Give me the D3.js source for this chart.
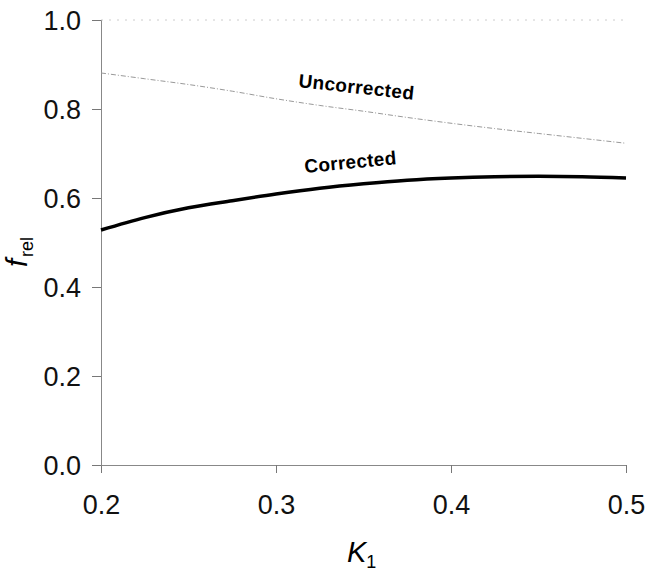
<!DOCTYPE html>
<html><head><meta charset="utf-8">
<script src="https://cdn.jsdelivr.net/npm/d3@7"></script>
<style>body{margin:0;background:#fff}svg{display:block}text{font-family:"Liberation Sans",Arial,sans-serif}</style>
</head><body>
<svg id="c" width="649" height="575"></svg>
<script>
const kValues = [0.2,0.225,0.25,0.275,0.3,0.325,0.35,0.375,0.4,0.425,0.45,0.475,0.5];
const uncorrected = [0.881,0.868,0.855,0.840,0.823,0.808,0.795,0.781,0.768,0.756,0.745,0.734,0.723];
const corrected = [0.528,0.556,0.578,0.594,0.609,0.622,0.632,0.640,0.645,0.648,0.649,0.648,0.645];
const xTicks = [0.2,0.3,0.4,0.5];
const yTicks = [0.0,0.2,0.4,0.6,0.8,1.0];

const svg = d3.select("#c");
const x = d3.scaleLinear().domain([0.2,0.5]).range([101,626]);
const y = d3.scaleLinear().domain([0,1]).range([465,20]);

// top frame (faint)
svg.append("line").attr("x1",x(0.2)).attr("x2",x(0.5)).attr("y1",y(1)).attr("y2",y(1))
  .attr("stroke","#ccc").attr("stroke-width",1).attr("stroke-dasharray","2,6");

const xAxis = svg.append("g").attr("transform",`translate(0,${y(0)})`)
  .call(d3.axisBottom(x).tickValues(xTicks).tickFormat(d3.format(".1f")).tickSize(8).tickPadding(22));
const yAxis = svg.append("g").attr("transform",`translate(${x(0.2)},0)`)
  .call(d3.axisLeft(y).tickValues(yTicks).tickFormat(d3.format(".1f")).tickSize(9).tickPadding(11));
[xAxis,yAxis].forEach(a=>{
  a.select(".domain").attr("stroke","#888").attr("stroke-width",1);
  a.selectAll(".tick line").attr("stroke","#777");
  a.selectAll(".tick text").attr("font-size",27).attr("fill","#111")
    .style("font-family","'Liberation Sans',Arial,sans-serif");
});
xAxis.selectAll(".tick text").attr("dy","0.71em");
yAxis.selectAll(".tick text").attr("dy","0.36em");

const line = d3.line().x((d,i)=>x(kValues[i])).y(d=>y(d)).curve(d3.curveMonotoneX);
svg.append("path").datum(uncorrected).attr("d",line).attr("fill","none")
  .attr("stroke","#999").attr("stroke-width",1).attr("stroke-dasharray","5,2,1,2");
svg.append("path").datum(corrected).attr("d",line).attr("fill","none")
  .attr("stroke","#000").attr("stroke-width",3.5);

svg.append("text").attr("transform","translate(298,87) rotate(6.3)")
  .attr("font-size",19).attr("font-weight","bold").attr("letter-spacing",0.4).text("Uncorrected");
svg.append("text").attr("transform","translate(305,173) rotate(-5.5)")
  .attr("font-size",19).attr("font-weight","bold").attr("letter-spacing",0.3).text("Corrected");

// axis titles
const xt = svg.append("text").attr("x",347).attr("y",562).attr("font-size",29);
xt.append("tspan").attr("font-style","italic").text("K");
xt.append("tspan").attr("font-size",18).attr("dy",6).text("1");

const yt = svg.append("text").attr("transform","translate(27,267) rotate(-90)").attr("font-size",29);
yt.append("tspan").attr("font-style","italic").text("f");
yt.append("tspan").attr("font-size",18).attr("dy",6).attr("dx",2).text("rel");
</script>
</body></html>
